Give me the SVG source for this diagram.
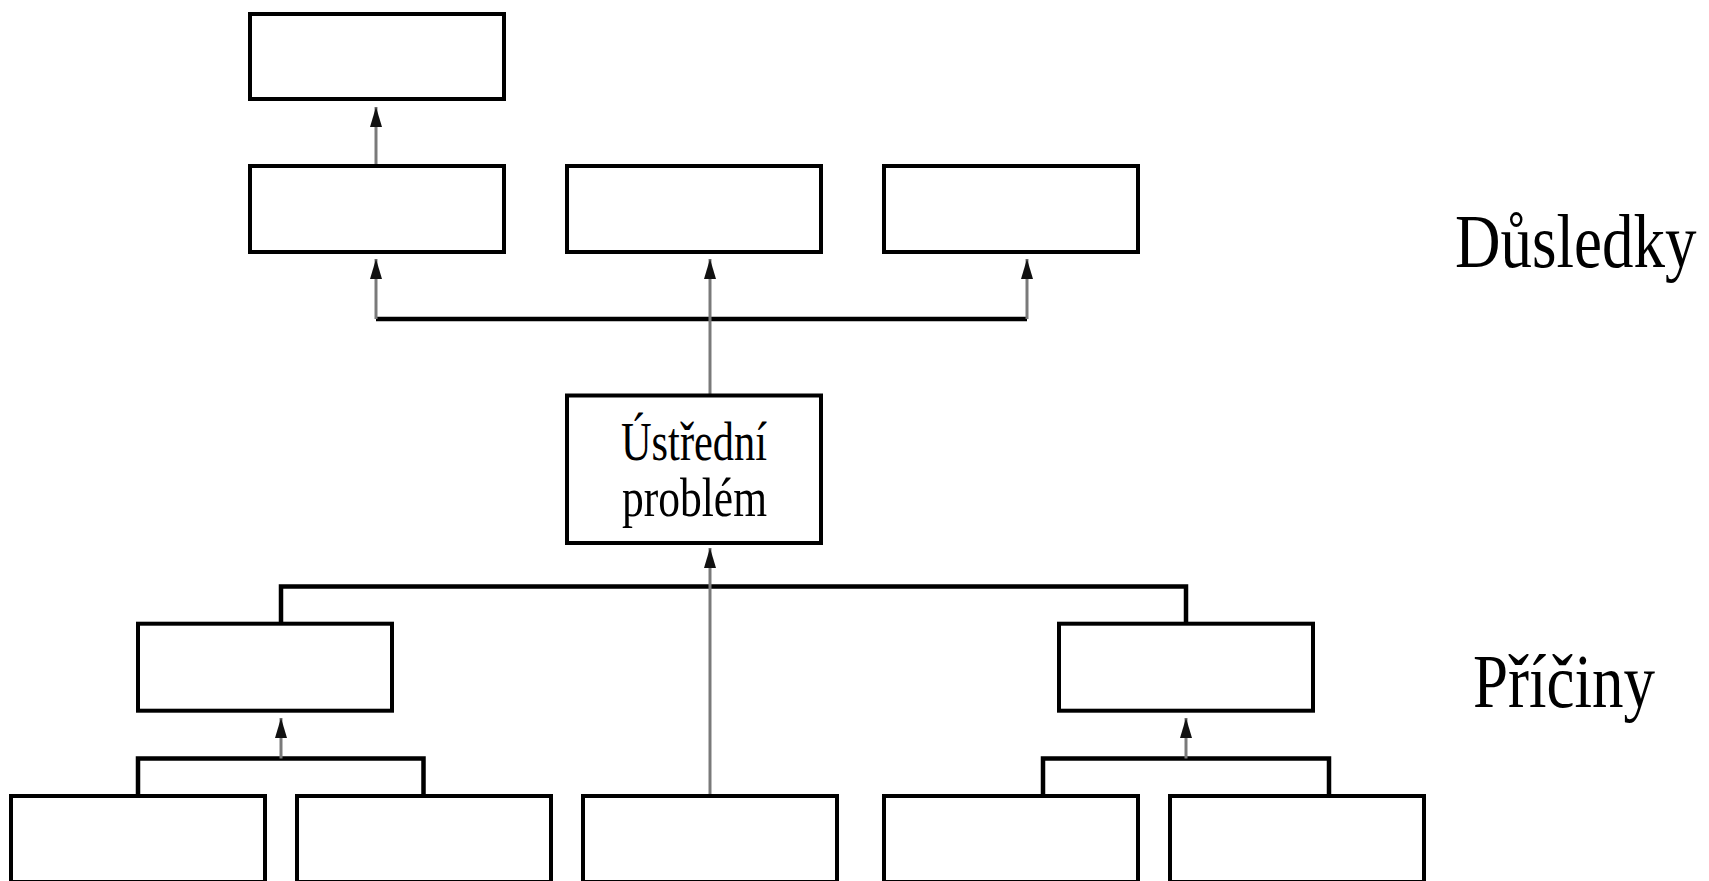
<svg xmlns="http://www.w3.org/2000/svg" width="1709" height="881" viewBox="0 0 1709 881">
<style>
.box{fill:#fff;stroke:#000;stroke-width:4}
.bus{fill:none;stroke:#000;stroke-width:4.5;stroke-linejoin:miter}
.arr{fill:none;stroke:#7a7a7a;stroke-width:3;marker-end:url(#ah)}
.lbl{font-family:"Liberation Serif","Times New Roman",serif;fill:#000}
.big{font-size:63px}
.mid{font-size:54px}
</style>
<defs>
<marker id="ah" viewBox="0 0 20 14" refX="20" refY="7" markerWidth="20" markerHeight="14" markerUnits="userSpaceOnUse" orient="auto">
<path d="M0,1 L20,7 L0,13 z" fill="#111"/>
</marker>
</defs>
<rect width="1709" height="881" fill="#fff"/>
<g id="connectors">
<path class="bus" d="M376,319 H1027"/>
<path class="bus" d="M281,623 V586.5 H1186 V623"/>
<path class="bus" d="M138,796 V758.5 H423.5 V796"/>
<path class="bus" d="M1043,796 V758.5 H1329 V796"/>
<line class="arr" x1="376" y1="166" x2="376" y2="107"/>
<line class="arr" x1="376" y1="319" x2="376" y2="259"/>
<line class="arr" x1="710" y1="395" x2="710" y2="259"/>
<line class="arr" x1="1027" y1="319" x2="1027" y2="259"/>
<line class="arr" x1="710" y1="796" x2="710" y2="548"/>
<line class="arr" x1="281" y1="758.5" x2="281" y2="718"/>
<line class="arr" x1="1186" y1="758.5" x2="1186" y2="718"/>
</g>
<g id="n-top"><rect class="box" x="250" y="14" width="254" height="85"/></g>
<g id="n-d1"><rect class="box" x="250" y="166" width="254" height="86"/></g>
<g id="n-d2"><rect class="box" x="567" y="166" width="254" height="86"/></g>
<g id="n-d3"><rect class="box" x="884" y="166" width="254" height="86"/></g>
<g id="n-central">
<rect class="box" x="567" y="395.5" width="254" height="147.5"/>
<text class="lbl mid" x="621" y="460" textLength="146" lengthAdjust="spacingAndGlyphs">Ústřední</text>
<text class="lbl mid" x="622" y="515.5" textLength="145" lengthAdjust="spacingAndGlyphs">problém</text>
</g>
<g id="n-c1"><rect class="box" x="138" y="623.7" width="254" height="87"/></g>
<g id="n-c2"><rect class="box" x="1059" y="623.7" width="254" height="87"/></g>
<g id="n-b1"><rect class="box" x="11" y="796" width="254" height="86"/></g>
<g id="n-b2"><rect class="box" x="297" y="796" width="254" height="86"/></g>
<g id="n-b3"><rect class="box" x="583" y="796" width="254" height="86"/></g>
<g id="n-b4"><rect class="box" x="884" y="796" width="254" height="86"/></g>
<g id="n-b5"><rect class="box" x="1170" y="796" width="254" height="86"/></g>
<g id="labels">
<text class="lbl big" transform="translate(1455,267) scale(1,1.22)" x="0" y="0">Důsledky</text>
<text class="lbl big" transform="translate(1473,707) scale(1,1.22)" x="0" y="0">Příčiny</text>
</g>
</svg>
